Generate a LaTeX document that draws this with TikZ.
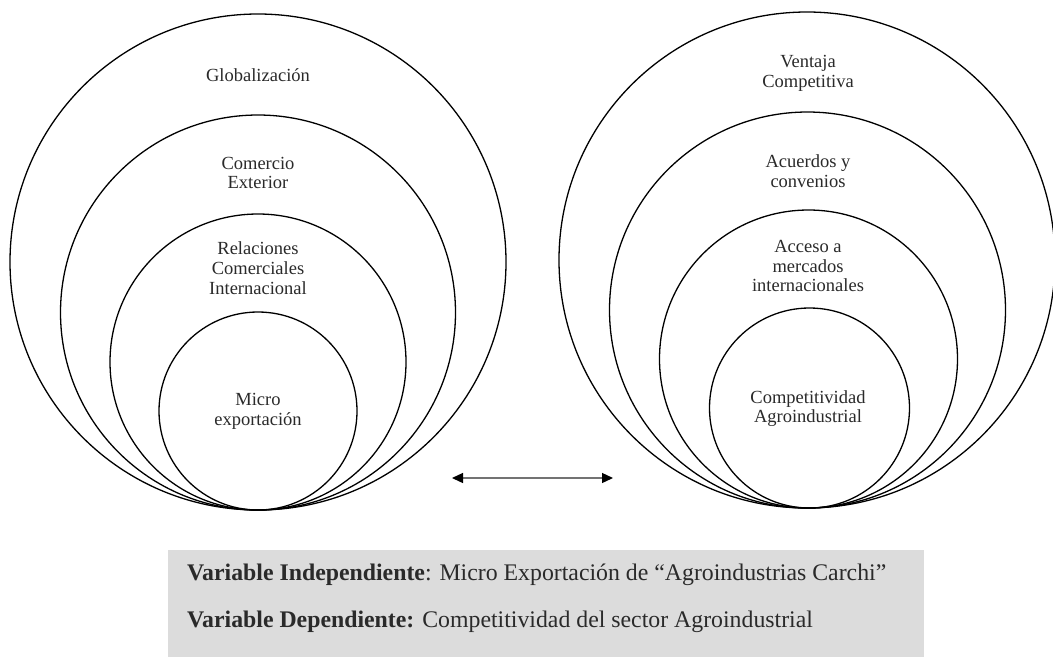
\documentclass[tikz,border=0pt]{standalone}
\usepackage{fontspec}
\setmainfont{Liberation Serif}
\usetikzlibrary{arrows.meta}
\definecolor{boxgray}{HTML}{DCDCDC}
\definecolor{txtgray}{HTML}{2A2A2A}
\begin{document}
\begin{tikzpicture}[x=1pt,y=-1pt,
  ring/.style={circle,draw=black,line width=1.3pt,inner sep=0pt,minimum size=#1},
  ringlabel/.style={align=center,text=txtgray,font=\fontsize{18.5}{19.7}\selectfont,inner sep=0pt},
  vartext/.style={anchor=base west,text=txtgray,font=\fontsize{23.8}{27}\selectfont,inner sep=0pt},
  linkarrow/.style={black!55,line width=1.3pt,{Triangle[length=11pt,width=10pt,color=black]}-{Triangle[length=11pt,width=10pt,color=black]}}
]
\useasboundingbox (0,0) rectangle (1053,657);
\fill[white] (0,0) rectangle (1053,657);
% left group
\node[ring=496pt] (L1) at (258,262) {};
\node[ring=395pt] (L2) at (258,312.5) {};
\node[ring=296pt] (L3) at (258,362) {};
\node[ring=198pt] (L4) at (258,411) {};
\node[ringlabel] (l1) at (258,75) {Globalización};
\node[ringlabel] (l2) at (258,173) {Comercio\\Exterior};
\node[ringlabel] (l3) at (258,268) {Relaciones\\Comerciales\\Internacional};
\node[ringlabel] (l4) at (258,411) {Micro\\exportación};
% right group
\node[ring=496pt] (R1) at (807,260) {};
\node[ring=396pt] (R2) at (807.5,310) {};
\node[ring=298pt] (R3) at (808.5,359) {};
\node[ring=200pt] (R4) at (809.5,408) {};
\node[ringlabel] (r1) at (808,73) {Ventaja\\Competitiva};
\node[ringlabel] (r2) at (808,171.5) {Acuerdos y\\convenios};
\node[ringlabel] (r3) at (808,266) {Acceso a\\mercados\\internacionales};
\node[ringlabel] (r4) at (808,408.5) {Competitividad\\Agroindustrial};
% arrow
\coordinate (aL) at (452,478);
\coordinate (aR) at (613,478);
\draw[linkarrow] (aL) -- (aR);
% box
\fill[boxgray] (168,550) rectangle (924,657);
\node[vartext] (v1) at (187,580.5) {\textbf{Variable Independiente}: Micro Exportación de “Agroindustrias Carchi”};
\node[vartext] (v2) at (187,627) {\textbf{Variable Dependiente:} Competitividad del sector Agroindustrial};
\end{tikzpicture}
\end{document}
